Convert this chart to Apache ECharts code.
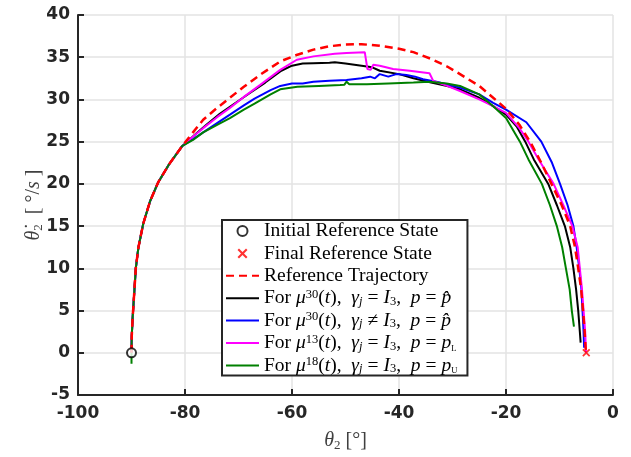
<!DOCTYPE html>
<html><head><meta charset="utf-8">
<script src="https://cdn.jsdelivr.net/npm/echarts@6/dist/echarts.min.js"></script>
<style>html,body{margin:0;padding:0;background:#fff}#c{width:631px;height:457px}</style>
</head><body><div id="c"></div>
<script>
// common start of all trajectories
var startX = [-90, -89.95, -89.8, -89.5, -89.2, -88.7, -87.8, -86.5, -85, -83, -80.5];
var startY = [0, 2, 4, 7, 10, 12.5, 15.3, 18, 20.2, 22.3, 24.5];

var refX = [-78.5, -76.6, -74, -71.6, -69, -66, -62.2, -59, -56, -53, -50, -47, -43.6, -40, -37.3, -34, -31, -28.6, -25, -22.4, -20, -17.5, -15.5, -13.4, -11.5, -9.6, -8, -7.1, -6.5, -5.95, -5.6, -5.3, -5.05];
var refY = [26.1, 27.6, 29.0, 30.2, 31.5, 32.9, 34.5, 35.3, 35.9, 36.3, 36.5, 36.55, 36.35, 36.0, 35.6, 34.8, 33.9, 33.0, 31.6, 30.2, 28.9, 27.0, 25, 22.5, 20, 17.5, 15, 12.5, 10, 7.5, 5, 2.5, 0];

var blackX = [-78, -76, -73.5, -71, -68, -65, -62, -60, -58, -56, -53, -52, -50, -47, -45, -43.6, -40, -37.3, -34, -31, -28.6, -25, -22.4, -20, -18, -16.4, -14.8, -12.1, -10.5, -9, -8, -7.4, -6.9, -6.5, -6.2, -6.05];
var blackY = [25.9, 27.0, 28.3, 29.4, 30.7, 32.0, 33.4, 34.0, 34.25, 34.3, 34.35, 34.4, 34.25, 34.0, 33.8, 33.4, 33.0, 32.5, 32.0, 31.6, 31.2, 30.2, 29.2, 28.2, 26.8, 25, 22.9, 20, 17.5, 15, 12.5, 10, 7.5, 5, 2.5, 1.2];

var blueX = [-78.5, -76.6, -74, -71.6, -69, -67, -64, -62.2, -60, -58, -56, -53, -49.8, -47, -45.4, -44.5, -43.6, -42, -40.5, -38.6, -37, -35.5, -33, -31.1, -28.6, -25, -22.4, -20, -16.2, -13.4, -11.4, -9.9, -8.5, -7.4, -6.8, -6.3, -5.9, -5.7, -5.5, -5.4];
var blueY = [25.3, 26.1, 27.2, 28.2, 29.3, 30.1, 31.1, 31.6, 31.9, 31.9, 32.1, 32.2, 32.3, 32.5, 32.7, 32.5, 33.0, 32.7, 33.0, 32.9, 32.7, 32.4, 32.1, 31.8, 31.4, 30.6, 29.6, 28.8, 27.3, 25, 22.5, 20, 17.5, 15, 12.5, 10, 7.5, 5, 2.5, 0.6];

var magX = [-78.5, -76.6, -74, -71.6, -69, -66, -62.2, -59.1, -56, -52, -49.8, -46.4, -45.9, -45.3, -44.8, -43.6, -41.1, -38, -34.3, -33.6, -31, -28.6, -25, -22.4, -20, -17.5, -15.8, -13.9, -11.1, -9.3, -7.6, -6.6, -6.2, -5.8, -5.5, -5.2, -5.05];
var magY = [25.6, 26.6, 27.9, 29.0, 30.3, 31.7, 33.5, 34.7, 35.1, 35.4, 35.5, 35.6, 33.6, 33.5, 34.1, 34.0, 33.6, 33.4, 33.1, 32.2, 31.6, 31.0, 30.0, 29.2, 28.4, 26.6, 25, 22.9, 20, 17.5, 15, 12.5, 10, 7.5, 5, 2.5, 0];

var greenX = [-78.5, -76.6, -74, -71.6, -69, -67, -64, -62.2, -59, -55, -51, -50.2, -49.8, -49.3, -46, -42, -37.3, -34.3, -31.1, -28.6, -25, -22.4, -20, -17.4, -15.8, -13.3, -11.8, -10.5, -9.5, -8.8, -8.1, -7.7, -7.3];
var greenY = [25.2, 26.1, 27.0, 27.8, 28.8, 29.5, 30.6, 31.2, 31.5, 31.6, 31.7, 31.75, 32.1, 31.8, 31.8, 31.9, 32.0, 32.1, 31.9, 31.6, 30.6, 29.2, 27.8, 25, 22.9, 20, 17.5, 15, 12.5, 10, 7.5, 5, 3.1];
var greenStartY = -1.3;

var initState = [-90, 0];
var finalState = [-5, 0];

var xTicks = {min: -100, max: 0, interval: 20};
var yTicks = {min: -5, max: 40, interval: 5};

function pairs(xs, ys) { return xs.map(function (x, i) { return [x, ys[i]]; }); }
function withStart(xs, ys) { return pairs(startX, startY).concat(pairs(xs, ys)); }
var greenData = withStart(greenX, greenY);
greenData.unshift([startX[0], greenStartY]);

var serif = 'Liberation Serif';
var FS = 19.5;
var rich = {
  t: {fontFamily: serif, fontSize: FS, lineHeight: 20, color: '#000'},
  e: {fontFamily: serif, fontSize: FS, lineHeight: 20, color: '#000', padding: [0, 5, 0, 5]},
  m: {fontFamily: serif, fontStyle: 'italic', fontSize: FS, lineHeight: 20, color: '#000'},
  sup: {fontFamily: serif, fontSize: 12.5, lineHeight: 13, verticalAlign: 'top', color: '#000'},
  sub: {fontFamily: serif, fontStyle: 'italic', fontSize: 12.5, lineHeight: 13, verticalAlign: 'bottom', color: '#000'},
  subr: {fontFamily: serif, fontSize: 12.5, lineHeight: 13, verticalAlign: 'bottom', color: '#000'},
  sc: {fontFamily: serif, fontSize: 8.5, lineHeight: 11, verticalAlign: 'bottom', color: '#000'}
};
var labels = {
  init: '{t|Initial Reference State}',
  fin: '{t|Final Reference State}',
  ref: '{t|Reference Trajectory}',
  k: '{t|For }{m|μ}{sup|30}{t|(}{m|t}{t|),  }{m|γ}{sub|j}{e|=}{m|I}{subr|3}{t|,  }{m|p}{e|=}{m|p̂}',
  b: '{t|For }{m|μ}{sup|30}{t|(}{m|t}{t|),  }{m|γ}{sub|j}{e|≠}{m|I}{subr|3}{t|,  }{m|p}{e|=}{m|p̂}',
  mg: '{t|For }{m|μ}{sup|13}{t|(}{m|t}{t|),  }{m|γ}{sub|j}{e|=}{m|I}{subr|3}{t|,  }{m|p}{e|=}{m|p}{sc|L}',
  g: '{t|For }{m|μ}{sup|18}{t|(}{m|t}{t|),  }{m|γ}{sub|j}{e|=}{m|I}{subr|3}{t|,  }{m|p}{e|=}{m|p}{sc|U}'
};

var axisColor = '#262626';
var nameRich = {
  m: {fontFamily: serif, fontStyle: 'italic', fontSize: 20, lineHeight: 22, color: '#404040'},
  sub: {fontFamily: serif, fontSize: 13, lineHeight: 14, verticalAlign: 'bottom', color: '#404040'},
  t: {fontFamily: serif, fontSize: 20, lineHeight: 22, color: '#404040'}
};
var hideSym = {opacity: 0};
var chart = echarts.init(document.getElementById('c'));
chart.setOption({
  animation: false,
  backgroundColor: '#fff',
  grid: {left: 78, right: 18, top: 15, bottom: 60, containLabel: false},
  xAxis: {
    type: 'value', min: xTicks.min, max: xTicks.max, interval: xTicks.interval,
    axisLine: {onZero: false, lineStyle: {color: axisColor, width: 2}},
    axisTick: {inside: true, length: 6, lineStyle: {color: axisColor, width: 2}},
    splitLine: {lineStyle: {color: '#e3e3e3', width: 1.5}},
    axisLabel: {fontFamily: 'DejaVu Sans', fontWeight: 'bold', fontSize: 17, color: axisColor, margin: 10},
    name: '{m|θ}{sub|2}{t| [°]}', nameLocation: 'middle', nameGap: 35, nameMoveOverlap: false,
    nameTextStyle: {rich: nameRich}
  },
  yAxis: {
    type: 'value', min: yTicks.min, max: yTicks.max, interval: yTicks.interval,
    axisLine: {show: true, onZero: false, lineStyle: {color: axisColor, width: 2}},
    axisTick: {show: true, inside: true, length: 6, lineStyle: {color: axisColor, width: 2}},
    splitLine: {lineStyle: {color: '#e3e3e3', width: 1.5}},
    axisLabel: {fontFamily: 'DejaVu Sans', fontWeight: 'bold', fontSize: 17, color: axisColor, margin: 8},
    name: '{m|θ̇}{sub|2}{t|  [ °/}{m|s}{t| ]}', nameLocation: 'middle', nameGap: 33, nameRotate: 90, nameMoveOverlap: false,
    nameTextStyle: {rich: nameRich}
  },
  legend: {
    orient: 'vertical', left: 222, top: 220,
    data: [
      {name: 'init'}, {name: 'fin'}, {name: 'ref', itemStyle: hideSym},
      {name: 'k', itemStyle: hideSym}, {name: 'b', itemStyle: hideSym},
      {name: 'mg', itemStyle: hideSym}, {name: 'g', itemStyle: hideSym}
    ],
    formatter: function (n) { return labels[n]; },
    textStyle: {rich: rich},
    itemWidth: 33, itemHeight: 10, itemGap: 2.4,
    padding: [1, 10, 0, 3],
    borderColor: axisColor, borderWidth: 2, backgroundColor: '#fff',
    selectedMode: false
  },
  series: [
    {name: 'k', type: 'line', data: withStart(blackX, blackY), symbol: 'none', lineStyle: {color: '#000', width: 2}, itemStyle: {color: '#000'}, z: 2},
    {name: 'b', type: 'line', data: withStart(blueX, blueY), symbol: 'none', lineStyle: {color: '#0000ff', width: 2}, itemStyle: {color: '#0000ff'}, z: 2},
    {name: 'mg', type: 'line', data: withStart(magX, magY), symbol: 'none', lineStyle: {color: '#ff00ff', width: 2}, itemStyle: {color: '#ff00ff'}, z: 2},
    {name: 'g', type: 'line', data: greenData, symbol: 'none', lineStyle: {color: '#008000', width: 2}, itemStyle: {color: '#008000'}, z: 2},
    {name: 'ref', type: 'line', data: withStart(refX, refY), symbol: 'none', lineStyle: {color: '#ff0000', width: 2.5, type: [8, 5]}, itemStyle: {color: '#ff0000'}, z: 3},
    {name: 'init', type: 'scatter', data: [initState], symbol: 'emptyCircle', symbolSize: 9, itemStyle: {color: '#000', borderColor: '#000', borderWidth: 2}, z: 4},
    {name: 'fin', type: 'scatter', data: [finalState], symbol: 'path://M0,1.5L1.5,0L5,3.5L8.5,0L10,1.5L6.5,5L10,8.5L8.5,10L5,6.5L1.5,10L0,8.5L3.5,5Z', symbolSize: 8, itemStyle: {color: '#ff0000'}, z: 4}
  ]
});
</script></body></html>
